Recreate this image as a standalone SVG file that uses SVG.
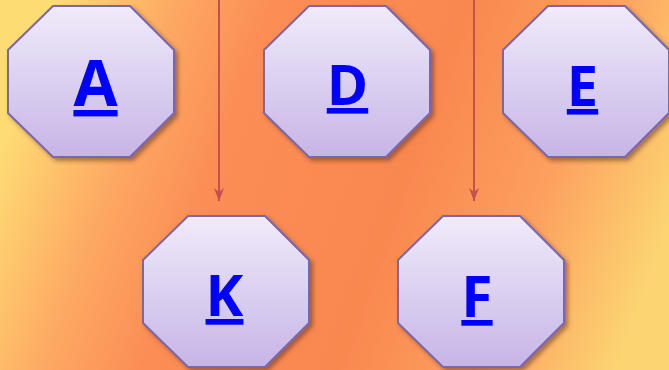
<svg xmlns="http://www.w3.org/2000/svg" width="669" height="370" viewBox="0 0 669 370">
<style>
.oct{fill:url(#nodeFill);stroke:#7a66ad;stroke-width:2;filter:url(#shadow)}
.lbl{font-family:"Open Sans","Liberation Sans",sans-serif;font-weight:bold;fill:#0000ff;text-anchor:middle;text-decoration:underline;text-decoration-thickness:6px;text-underline-offset:5px}
.edge{stroke:#c4504f;stroke-width:2;fill:none;marker-end:url(#arr)}
</style>
<defs>
<linearGradient id="bg" x1="0" y1="0.4" x2="1" y2="0.6">
<stop offset="0" stop-color="#fedc74"/>
<stop offset="0.18" stop-color="#fda862"/>
<stop offset="0.32" stop-color="#fb8d55"/>
<stop offset="0.6" stop-color="#f9884f"/>
<stop offset="0.8" stop-color="#fd9f5e"/>
<stop offset="1" stop-color="#fcd472"/>
</linearGradient>
<linearGradient id="nodeFill" x1="0" y1="0" x2="0" y2="1">
<stop offset="0" stop-color="#f1ebfb"/>
<stop offset="1" stop-color="#c6b5e6"/>
</linearGradient>
<filter id="shadow" x="-10%" y="-10%" width="130%" height="130%">
<feDropShadow dx="3" dy="3" stdDeviation="2" flood-color="#5a2a10" flood-opacity="0.5"/>
</filter>
<marker id="arr" viewBox="0 0 14 10" refX="13" refY="5" markerWidth="14" markerHeight="10" markerUnits="userSpaceOnUse" orient="auto">
<path d="M0,0 L13,5 L0,10 L4,5 Z" fill="#c4504f"/>
</marker>
<polygon id="octShape" points="45,0 122,0 166,44 166,107 122,151 45,151 0,107 0,44"/>
</defs>
<rect width="669" height="370" fill="url(#bg)"/>
<g id="connectors">
<path class="edge" d="M219,0 V201"/>
<path class="edge" d="M474,0 V201"/>
</g>
<g id="node-A">
<use href="#octShape" class="oct" transform="translate(8,6)"/>
<text class="lbl" x="95.5" y="106" font-size="64">A</text>
</g>
<g id="node-D">
<use href="#octShape" class="oct" transform="translate(264,6)"/>
<text class="lbl" x="347.5" y="105" font-size="56">D</text>
</g>
<g id="node-E">
<use href="#octShape" class="oct" transform="translate(503,6)"/>
<text class="lbl" x="582.5" y="106" font-size="56">E</text>
</g>
<g id="node-K">
<use href="#octShape" class="oct" transform="translate(143,216)"/>
<text class="lbl" x="224.5" y="316" font-size="57">K</text>
</g>
<g id="node-F">
<use href="#octShape" class="oct" transform="translate(398,216)"/>
<text class="lbl" x="477" y="317" font-size="57">F</text>
</g>
</svg>
